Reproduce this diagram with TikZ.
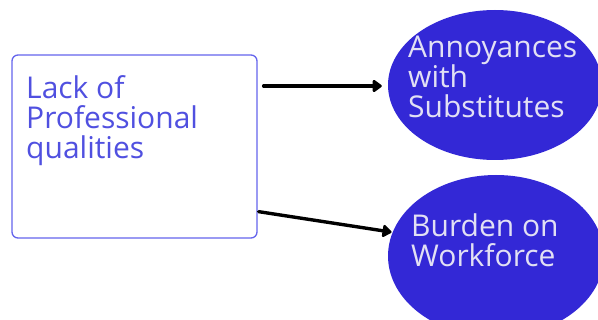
\documentclass[tikz,border=0pt]{standalone}
\usepackage{fontspec}
\setmainfont{Open Sans}
\usetikzlibrary{arrows.meta,shapes.geometric}
\definecolor{boxline}{HTML}{6464EC}
\definecolor{boxtext}{HTML}{5050E0}
\definecolor{ovalfill}{HTML}{3328D6}
\definecolor{ovaltext}{HTML}{E2E0F4}
\tikzset{
  causebox/.style={draw=boxline, line width=1.3pt, rounded corners=6pt, minimum width=245pt, minimum height=183pt, inner sep=0pt},
  effect/.style={ellipse, fill=ovalfill, inner sep=0pt},
  lbl/.style={align=left, inner sep=0pt, anchor=base west, font=\fontsize{30}{30}\selectfont},
  arr/.style={line width=3.4pt, line cap=round, -{Triangle[length=10pt,width=14pt,round]}},
}
\begin{document}
\begin{tikzpicture}[x=1pt,y=-1pt]
\useasboundingbox (0,0) rectangle (598,320);
\clip (0,0) rectangle (598,320);
% cause
\node[causebox] (box) at (134.5,146.5) {};
\node[lbl, text=boxtext] (boxlbl) at (26,159) {Lack of\\Professional\\qualities};
% effects
\node[effect, minimum width=214pt, minimum height=150pt] (e1) at (495,85) {};
\node[lbl, text=ovaltext] (e1lbl) at (408,118) {Annoyances\\with\\Substitutes};
\node[effect, minimum width=216pt, minimum height=162pt] (e2) at (496,256) {};
\node[lbl, text=ovaltext] (e2lbl) at (411,267) {Burden on\\Workforce};
% connectors
\draw[arr] ([xshift=6pt]box.east |- 0,86) -- ([xshift=-6pt]e1.west |- 0,86);
\draw[arr] ([xshift=1pt,yshift=27pt]box.south east) -- ([xshift=-1pt]e2.167);
\end{tikzpicture}
\end{document}
